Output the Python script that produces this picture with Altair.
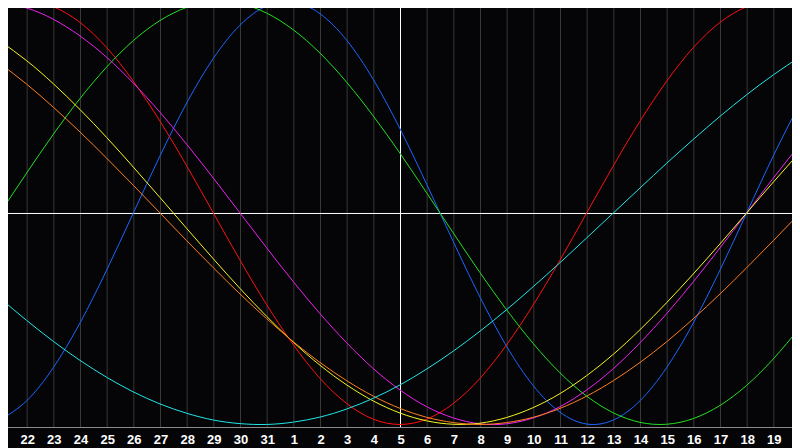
import altair as alt
import pandas as pd

# day index 0..30 (index 0 = day 21, index 15 = day 5 "today", index 30 = day 20)
idx = list(range(31))
day_labels = ["22", "23", "24", "25", "26", "27", "28", "29", "30", "31",
              "1", "2", "3", "4", "5", "6", "7", "8", "9", "10",
              "11", "12", "13", "14", "15", "16", "17", "18", "19"]
label_idx = list(range(1, 30))
today_idx = 15

blue = [-0.979, -0.888, -0.731, -0.520, -0.270, 0.000, 0.270, 0.520, 0.731, 0.888,
        0.979, 0.998, 0.942, 0.817, 0.631, 0.398, 0.136, -0.136, -0.398, -0.631,
        -0.817, -0.942, -0.998, -0.979, -0.888, -0.731, -0.520, -0.270, 0.000, 0.270, 0.520]
red = [0.975, 1.000, 0.975, 0.901, 0.782, 0.623, 0.434, 0.223, 0.000, -0.223,
       -0.434, -0.623, -0.782, -0.901, -0.975, -1.000, -0.975, -0.901, -0.782, -0.623,
       -0.434, -0.223, 0.000, 0.223, 0.434, 0.623, 0.782, 0.901, 0.975, 1.000, 0.975]
green = [0.000, 0.189, 0.372, 0.541, 0.690, 0.815, 0.910, 0.972, 0.999, 0.990,
         0.945, 0.866, 0.756, 0.618, 0.458, 0.282, 0.095, -0.095, -0.282, -0.458,
         -0.618, -0.756, -0.866, -0.945, -0.990, -0.999, -0.972, -0.910, -0.815, -0.690, -0.541]
magenta = [0.997, 0.969, 0.916, 0.837, 0.736, 0.614, 0.476, 0.325, 0.165, 0.000,
           -0.165, -0.325, -0.476, -0.614, -0.736, -0.837, -0.916, -0.969, -0.997, -0.997,
           -0.969, -0.916, -0.837, -0.736, -0.614, -0.476, -0.325, -0.165, 0.000, 0.165, 0.325]
yellow = [0.813, 0.720, 0.611, 0.489, 0.357, 0.217, 0.073, -0.073, -0.217, -0.357,
          -0.489, -0.611, -0.720, -0.813, -0.889, -0.946, -0.983, -0.999, -0.994, -0.967,
          -0.920, -0.854, -0.769, -0.668, -0.552, -0.424, -0.288, -0.146, 0.000, 0.146, 0.288]
orange = [0.707, 0.609, 0.500, 0.383, 0.259, 0.131, 0.000, -0.131, -0.259, -0.383,
          -0.500, -0.609, -0.707, -0.793, -0.866, -0.924, -0.966, -0.991, -1.000, -0.991,
          -0.966, -0.924, -0.866, -0.793, -0.707, -0.609, -0.500, -0.383, -0.259, -0.131, 0.000]
cyan = [-0.403, -0.508, -0.607, -0.697, -0.777, -0.846, -0.903, -0.947, -0.979, -0.996,
        -1.000, -0.989, -0.965, -0.927, -0.876, -0.813, -0.738, -0.653, -0.559, -0.457,
        -0.348, -0.235, -0.118, 0.000, 0.118, 0.235, 0.348, 0.457, 0.559, 0.653, 0.738]

series = [
    ("blue", blue, "#1a66ff"),
    ("red", red, "#ff1010"),
    ("green", green, "#22e022"),
    ("magenta", magenta, "#f020f0"),
    ("yellow", yellow, "#f5f520"),
    ("orange", orange, "#ff7f1e"),
    ("cyan", cyan, "#22e6e6"),
]

W, H = 800, 427
xs = alt.Scale(domain=[0, 30], nice=False, zero=False)
ys = alt.Scale(domain=[-1.012, 1.007], nice=False, zero=False)

grid_df = pd.DataFrame({"i": label_idx, "label": day_labels})
grid = alt.Chart(grid_df).mark_rule(color="#383838", strokeWidth=1, xOffset=0.5).encode(
    x=alt.X("i:Q", scale=xs, axis=None)
)
labels = alt.Chart(grid_df).mark_text(
    font="Liberation Sans", fontWeight="bold", fontSize=13, color="white",
    baseline="alphabetic", align="center", dx=1
).encode(x=alt.X("i:Q", scale=xs, axis=None), y=alt.value(444), text="label:N")

ref_df = pd.DataFrame({"i": [today_idx], "v": [0]})
vline = alt.Chart(ref_df).mark_rule(color="white", strokeWidth=1, xOffset=0.5).encode(
    x=alt.X("i:Q", scale=xs, axis=None)
)
hline = alt.Chart(ref_df).mark_rule(color="white", strokeWidth=1, yOffset=0.5).encode(
    y=alt.Y("v:Q", scale=ys, axis=None)
)

layers = [grid, hline, vline]
for name, vals, col in series:
    df = pd.DataFrame({"i": idx, "v": vals})
    layers.append(
        alt.Chart(df).mark_line(color=col, strokeWidth=1, interpolate="natural").encode(
            x=alt.X("i:Q", scale=xs, axis=None),
            y=alt.Y("v:Q", scale=ys, axis=None),
        )
    )
layers.append(labels)

chart = alt.layer(*layers).properties(
    width=W, height=H,
    autosize=alt.AutoSizeParams(type="none"),
    padding={"left": -8, "top": -8, "right": -8, "bottom": 21},
    background="#050508",
).configure_view(fill="#050508", stroke="#8a8a8a", strokeWidth=1)

chart.save("out.html", embed_options={"renderer": "svg", "actions": False})
